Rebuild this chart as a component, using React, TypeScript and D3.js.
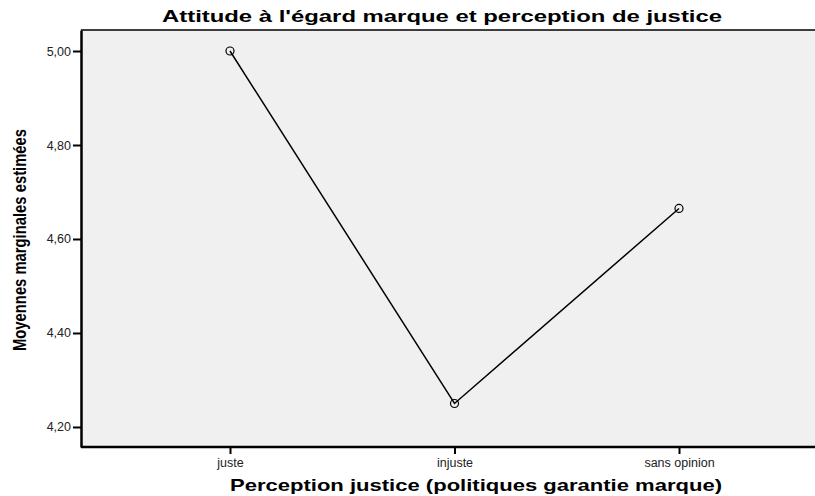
import * as d3 from 'd3';
import { useEffect, useRef } from 'react';

const categories = ['juste', 'injuste', 'sans opinion'];
const means = [5.0, 4.25, 4.665];
const yTicks = [4.2, 4.4, 4.6, 4.8, 5.0];

const chartTitle = "Attitude à l'égard marque et perception de justice";
const xTitle = 'Perception justice (politiques garantie marque)';
const yTitle = 'Moyennes marginales estimées';

export default function App() {
    const svgRef = useRef<SVGSVGElement | null>(null);

    useEffect(() => {
        if (!svgRef.current) return;
        const svg = d3.select(svgRef.current);
        svg.selectAll('*').remove();

        const W = 815, H = 496;
        const left = 81, right = 815, top = 30, bottom = 447;
        const font = '"Liberation Sans", Arial, sans-serif';

        const x = d3.scalePoint<string>()
            .domain(categories)
            .range([230, 679]);

        const y = d3.scaleLinear()
            .domain([4.1574, 5.0447])
            .range([bottom, top]);

        svg.append('rect')
            .attr('width', W).attr('height', H)
            .attr('fill', 'white');

        svg.append('rect')
            .attr('x', left).attr('y', top)
            .attr('width', right - left).attr('height', bottom - top)
            .attr('fill', '#f0f0f0');

        // frame
        svg.append('line')
            .attr('x1', left).attr('x2', right)
            .attr('y1', top).attr('y2', top)
            .attr('stroke', 'black').attr('stroke-width', 1.5);

        const yAxis = svg.append('g')
            .attr('transform', `translate(${left},0)`)
            .call(d3.axisLeft(y).tickValues(yTicks)
                .tickFormat(d => d3.format('.2f')(d as number).replace('.', ','))
                .tickSize(8).tickPadding(2).tickSizeOuter(0));
        yAxis.select('.domain').attr('stroke-width', 2.5);
        yAxis.selectAll('.tick line').attr('stroke-width', 2);
        yAxis.selectAll('.tick text')
            .attr('font-family', font).attr('font-size', 12.5).attr('fill', '#222');

        const xAxis = svg.append('g')
            .attr('transform', `translate(0,${bottom})`)
            .call(d3.axisBottom(x).tickSize(7).tickPadding(4).tickSizeOuter(0));
        xAxis.select('.domain')
            .attr('d', `M${left},0H${right}`)
            .attr('stroke-width', 2.5);
        xAxis.selectAll('.tick line').attr('stroke-width', 2);
        xAxis.selectAll('.tick text')
            .attr('font-family', font).attr('font-size', 12.5).attr('fill', '#222');

        const pts = categories.map((c, i) => ({ c, v: means[i] }));

        const line = d3.line<{ c: string; v: number }>()
            .x(d => x(d.c) as number)
            .y(d => y(d.v));

        svg.append('path')
            .datum(pts)
            .attr('d', line)
            .attr('fill', 'none')
            .attr('stroke', 'black')
            .attr('stroke-width', 1.5);

        svg.selectAll('.pt')
            .data(pts)
            .enter().append('circle')
            .attr('class', 'pt')
            .attr('cx', d => x(d.c) as number)
            .attr('cy', d => y(d.v))
            .attr('r', 4)
            .attr('fill', 'none')
            .attr('stroke', 'black')
            .attr('stroke-width', 1.2);

        svg.append('text')
            .attr('x', 442).attr('y', 22)
            .attr('text-anchor', 'middle')
            .attr('font-family', font).attr('font-weight', 'bold').attr('font-size', 16)
            .attr('textLength', 560).attr('lengthAdjust', 'spacingAndGlyphs')
            .text(chartTitle);

        svg.append('text')
            .attr('x', 476).attr('y', 491)
            .attr('text-anchor', 'middle')
            .attr('font-family', font).attr('font-weight', 'bold').attr('font-size', 16.5)
            .attr('textLength', 492).attr('lengthAdjust', 'spacingAndGlyphs')
            .text(xTitle);

        svg.append('text')
            .attr('transform', `translate(26,240) rotate(-90)`)
            .attr('text-anchor', 'middle')
            .attr('font-family', font).attr('font-weight', 'bold').attr('font-size', 18)
            .attr('textLength', 222).attr('lengthAdjust', 'spacingAndGlyphs')
            .text(yTitle);

        return () => { d3.select(svgRef.current).selectAll('*').remove(); };
    }, []);

    return (
        <svg ref={svgRef} width={815} height={496}
            style={{ position: 'absolute', left: 0, top: 0, display: 'block' }} />
    );
}
